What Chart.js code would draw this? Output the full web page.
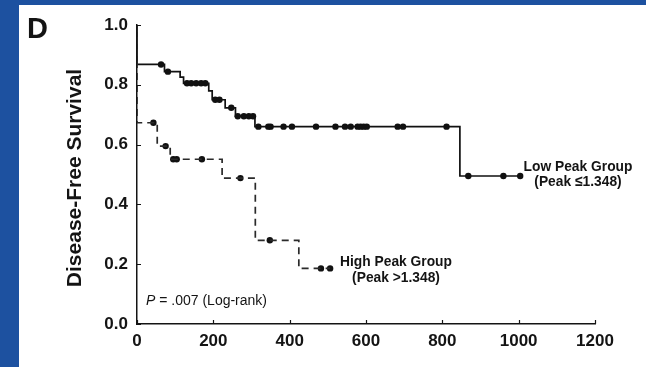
<!DOCTYPE html>
<html>
<head>
<meta charset="utf-8">
<script src="https://cdn.jsdelivr.net/npm/chart.js@4.4.1/dist/chart.umd.min.js"></script>
<style>
  html, body { margin: 0; padding: 0; background: #1d51a0; }
  #wrap { width: 646px; height: 367px; position: relative; }
  canvas { display: block; }
</style>
</head>
<body>
<div id="wrap"><canvas id="km" width="646" height="367"></canvas></div>
<script>
// Kaplan-Meier disease-free survival, low vs high peak groups (days on x)

// Low peak group: step points (day, survival) and censored observations
const lowEventDays = [0, 0, 72, 113, 122, 188, 197, 231, 258, 309, 846, 1004];
const lowEventSurv = [1.0, 0.868, 0.844, 0.826, 0.805, 0.78, 0.75, 0.723, 0.695, 0.66, 0.495, 0.495];
const lowCensorDays = [63, 81, 131, 142, 155, 168, 179, 205, 216, 247, 264, 280, 293, 304,
  318, 344, 350, 384, 406, 469, 520, 545, 560, 578, 586, 594, 602, 683, 697, 811, 868, 960, 1004];
const lowCensorSurv = [0.868, 0.844, 0.805, 0.805, 0.805, 0.805, 0.805, 0.75, 0.75, 0.723,
  0.695, 0.695, 0.695, 0.695,
  0.66, 0.66, 0.66, 0.66, 0.66, 0.66, 0.66, 0.66, 0.66, 0.66, 0.66, 0.66, 0.66, 0.66, 0.66, 0.66,
  0.495, 0.495, 0.495];

// High peak group
const highEventDays = [0, 0, 53, 87, 223, 310, 424, 506];
const highEventSurv = [1.0, 0.673, 0.595, 0.551, 0.488, 0.28, 0.186, 0.186];
const highCensorDays = [43, 75, 95, 104, 170, 271, 348, 482, 506];
const highCensorSurv = [0.673, 0.595, 0.551, 0.551, 0.551, 0.488, 0.28, 0.186, 0.186];

// Axis ticks
const xTicks = [0, 200, 400, 600, 800, 1000, 1200];
const yTicks = [0.0, 0.2, 0.4, 0.6, 0.8, 1.0];

const FONT = "'Liberation Sans', Arial, Helvetica, sans-serif";
const INK = '#141414';

const pts = (xs, ys) => xs.map((x, i) => ({ x: x, y: ys[i] }));

// Panel background and annotation text
const decor = {
  id: 'decor',
  beforeDraw(chart) {
    const c = chart.ctx;
    c.save();
    c.fillStyle = '#1d51a0';
    c.fillRect(0, 0, chart.width, chart.height);
    c.fillStyle = '#ffffff';
    c.fillRect(19, 5, chart.width - 19, chart.height - 5);
    c.restore();
  },
  afterDraw(chart) {
    const c = chart.ctx;
    const xs = chart.scales.x, ys = chart.scales.y;
    c.save();
    // inward tick marks
    c.strokeStyle = INK;
    c.lineWidth = 1.2;
    c.beginPath();
    yTicks.forEach(v => {
      const py = Math.round(ys.getPixelForValue(v)) + 0.5;
      c.moveTo(xs.left, py); c.lineTo(xs.left + 4, py);
    });
    xTicks.forEach(v => {
      const px = Math.round(xs.getPixelForValue(v)) + 0.5;
      c.moveTo(px, ys.bottom); c.lineTo(px, ys.bottom - 4);
    });
    c.stroke();

    c.fillStyle = INK;
    // panel letter
    c.font = 'bold 29px ' + FONT;
    c.textAlign = 'left';
    c.textBaseline = 'alphabetic';
    c.fillText('D', 27, 38);

    // y axis title
    c.save();
    c.translate(75, 178);
    c.rotate(-Math.PI / 2);
    c.font = 'bold 21px ' + FONT;
    c.textAlign = 'center';
    c.textBaseline = 'middle';
    c.fillText('Disease-Free Survival', 0, 0);
    c.restore();

    // group labels
    const label = (txt, x, y) => {
      c.save();
      c.translate(x, y);
      c.scale(0.92, 1);
      c.font = 'bold 15px ' + FONT;
      c.textAlign = 'center';
      c.textBaseline = 'middle';
      c.fillText(txt, 0, 0);
      c.restore();
    };
    label('Low Peak Group', 578, 167);
    label('(Peak \u22641.348)', 578, 182);
    label('High Peak Group', 396, 262);
    label('(Peak >1.348)', 396, 278);

    // log-rank p value
    c.textAlign = 'left';
    c.textBaseline = 'middle';
    c.font = 'italic 14px ' + FONT;
    c.fillText('P', 146, 301);
    const pw = c.measureText('P').width;
    c.font = '14px ' + FONT;
    c.fillText(' = .007 (Log-rank)', 146 + pw, 301);
    c.restore();
  }
};

new Chart(document.getElementById('km'), {
  type: 'line',
  data: {
    datasets: [
      {
        label: 'High Peak Group',
        data: pts(highEventDays, highEventSurv),
        stepped: 'before',
        borderColor: '#2a2a2a',
        borderWidth: 1.7,
        borderDash: [7, 5],
        pointRadius: 0,
        fill: false
      },
      {
        label: 'Low Peak Group',
        data: pts(lowEventDays, lowEventSurv),
        stepped: 'before',
        borderColor: '#111111',
        borderWidth: 1.7,
        pointRadius: 0,
        fill: false
      },
      {
        label: 'Low censored',
        data: pts(lowCensorDays, lowCensorSurv),
        showLine: false,
        pointRadius: 3.2,
        pointBackgroundColor: '#111111',
        pointBorderWidth: 0
      },
      {
        label: 'High censored',
        data: pts(highCensorDays, highCensorSurv),
        showLine: false,
        pointRadius: 3.2,
        pointBackgroundColor: '#111111',
        pointBorderWidth: 0
      }
    ]
  },
  options: {
    responsive: false,
    animation: false,
    layout: { padding: { left: 0, top: 25, right: 51, bottom: 0 } },
    plugins: { legend: { display: false }, tooltip: { enabled: false } },
    scales: {
      x: {
        type: 'linear',
        min: 0, max: 1200,
        afterFit(s) { s.height = 43; },
        afterBuildTicks(s) { s.ticks = xTicks.map(v => ({ value: v })); },
        grid: { display: false, drawTicks: false },
        border: { display: true, color: INK, width: 1.5 },
        ticks: {
          padding: 7,
          color: INK,
          font: { family: FONT, size: 17, weight: 'bold' },
          callback: v => String(v)
        }
      },
      y: {
        type: 'linear',
        min: 0, max: 1,
        afterFit(s) { s.width = 137; },
        afterBuildTicks(s) { s.ticks = yTicks.map(v => ({ value: v })); },
        grid: { display: false, drawTicks: false },
        border: { display: true, color: INK, width: 1.5 },
        ticks: {
          padding: 9,
          color: INK,
          font: { family: FONT, size: 17, weight: 'bold' },
          callback: v => Number(v).toFixed(1)
        }
      }
    }
  },
  plugins: [decor]
});
</script>
</body>
</html>
